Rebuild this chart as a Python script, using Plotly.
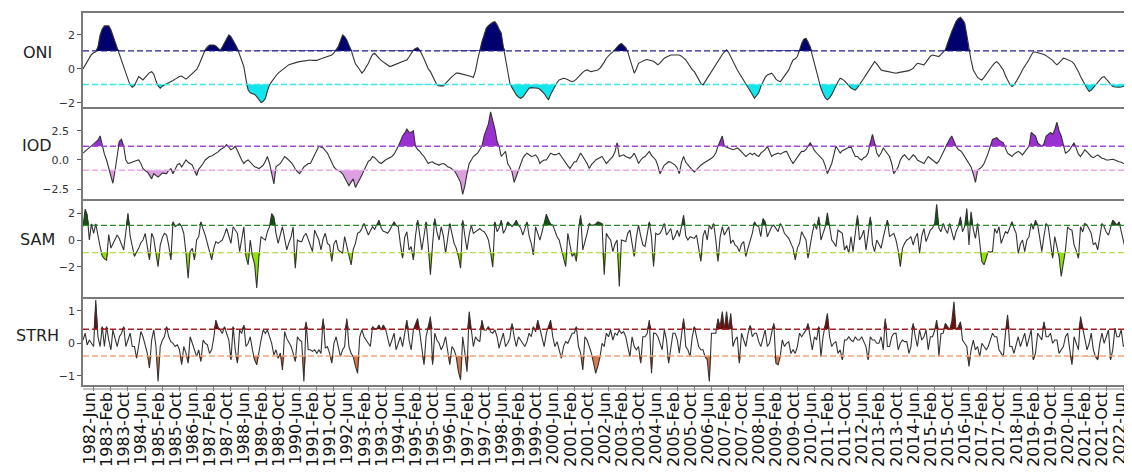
import pandas as pd
import numpy as np
import plotly.graph_objects as go
from plotly.subplots import make_subplots

start_month = "1982-01-01"

# ---- monthly series (1982-Jan .. 2022-Oct) ----
oni = [
    0.0, 0.2, 0.45, 0.65, 0.85, 0.95, 1.0, 1.3, 2.0, 2.35, 2.53, 2.53,
    2.53, 2.3, 1.95, 1.6, 1.25, 0.9, 0.5, 0.14, -0.3, -0.6, -0.95, -1.08,
    -0.98, -0.75, -0.45, -0.55, -0.65, -0.5, -0.35, -0.22, -0.16, -0.3, -0.7, -1.0,
    -1.14, -1.0, -0.94, -0.88, -0.84, -0.76, -0.68, -0.6, -0.5, -0.45, -0.42, -0.5,
    -0.6, -0.5, -0.4, -0.3, -0.15, -0.03, 0.2, 0.5, 0.85, 1.12, 1.3, 1.41,
    1.41, 1.41, 1.35, 1.2, 1.1, 1.3, 1.55, 1.8, 2.0, 1.9, 1.7, 1.45,
    1.2, 0.8, 0.5, 0.14, -0.6, -1.24, -1.4, -1.47, -1.5, -1.63, -1.8, -1.98,
    -1.9, -1.73, -1.3, -0.94, -0.75, -0.55, -0.4, -0.25, -0.16, -0.05, 0.05, 0.15,
    0.25, 0.3, 0.33, 0.36, 0.4, 0.43, 0.45, 0.48, 0.5, 0.53, 0.52, 0.5,
    0.49, 0.5, 0.55, 0.6, 0.63, 0.66, 0.7, 0.75, 0.82, 0.95, 1.1, 1.31,
    1.65, 2.0, 1.9, 1.7, 1.4, 1.12, 0.7, 0.3, 0.14, -0.05, -0.25, -0.1,
    0.1, 0.33, 0.6, 0.85, 0.92, 0.8, 0.63, 0.5, 0.4, 0.3, 0.2, 0.14,
    0.18, 0.24, 0.3, 0.33, 0.38, 0.43, 0.48, 0.53, 0.7, 0.9, 1.1, 1.2,
    1.25, 1.1, 0.9, 0.6, 0.3, 0.0, -0.16, -0.45, -0.7, -0.94, -1.0, -1.0,
    -1.0, -0.85, -0.7, -0.55, -0.45, -0.35, -0.25, -0.25, -0.28, -0.3, -0.33, -0.35,
    -0.4, -0.45, -0.5, -0.1, 0.53, 1.1, 1.6, 2.0, 2.4, 2.55, 2.68, 2.75,
    2.78, 2.6, 2.35, 2.1, 1.3, 0.53, -0.2, -0.84, -1.1, -1.35, -1.53, -1.65,
    -1.73, -1.65, -1.5, -1.3, -1.14, -1.1, -1.1, -1.12, -1.14, -1.2, -1.3, -1.45,
    -1.65, -1.82, -1.5, -1.24, -1.0, -0.8, -0.65, -0.6, -0.55, -0.58, -0.62, -0.7,
    -0.75, -0.7, -0.6, -0.45, -0.35, -0.2, -0.1, -0.06, -0.12, -0.16, -0.12, -0.08,
    -0.06, 0.05, 0.2, 0.4, 0.63, 0.8, 0.9, 1.0, 1.15, 1.3, 1.42, 1.5,
    1.4, 1.25, 1.0, 0.6, 0.2, -0.25, 0.0, 0.33, 0.4, 0.48, 0.53, 0.55,
    0.52, 0.49, 0.45, 0.35, 0.24, 0.35, 0.5, 0.63, 0.7, 0.76, 0.82, 0.82,
    0.82, 0.82, 0.82, 0.75, 0.65, 0.53, 0.35, 0.15, -0.05, -0.16, -0.4, -0.65,
    -0.85, -0.94, -0.75, -0.55, -0.35, -0.15, 0.05, 0.24, 0.45, 0.65, 0.85, 1.0,
    1.12, 0.95, 0.7, 0.43, 0.2, -0.05, -0.25, -0.45, -0.7, -0.9, -1.04, -1.3,
    -1.5, -1.73, -1.6, -1.4, -1.04, -0.75, -0.5, -0.35, -0.3, -0.25, -0.4, -0.6,
    -0.7, -0.75, -0.6, -0.4, -0.2, -0.06, 0.25, 0.53, 0.6, 0.73, 1.1, 1.5,
    1.75, 1.8, 1.6, 1.31, 0.8, 0.3, -0.06, -0.6, -1.14, -1.45, -1.7, -1.82,
    -1.7, -1.5, -1.24, -1.0, -0.75, -0.55, -0.6, -0.7, -0.84, -1.0, -1.12, -1.2,
    -1.24, -1.1, -0.9, -0.75, -0.55, -0.35, -0.16, 0.05, 0.25, 0.43, 0.3, 0.1,
    -0.06, -0.1, -0.12, -0.14, -0.16, -0.2, -0.23, -0.25, -0.22, -0.2, -0.18, -0.16,
    -0.16, -0.1, -0.04, 0.04, 0.2, 0.33, 0.3, 0.27, 0.24, 0.4, 0.6, 0.75,
    0.82, 0.8, 0.76, 0.73, 0.85, 1.0, 1.12, 1.5, 1.9, 2.2, 2.5, 2.8,
    2.95, 3.04, 2.9, 2.7, 2.0, 1.12, 0.5, -0.06, -0.3, -0.5, -0.6, -0.65,
    -0.5, -0.3, -0.16, 0.0, 0.2, 0.35, 0.43, 0.3, 0.1, -0.06, -0.4, -0.7,
    -0.9, -1.04, -0.95, -0.75, -0.55, -0.3, -0.05, 0.14, 0.35, 0.55, 0.8, 1.0,
    1.0, 0.97, 0.95, 0.92, 0.85, 0.78, 0.7, 0.63, 0.5, 0.35, 0.24, 0.35,
    0.5, 0.63, 0.6, 0.55, 0.5, 0.43, 0.3, 0.1, -0.16, -0.45, -0.7, -0.94,
    -1.15, -1.33, -1.25, -1.1, -0.94, -0.8, -0.65, -0.5, -0.45, -0.6, -0.8, -0.95,
    -1.04, -1.06, -1.08, -1.08, -1.06, -1.04, -1.0, -0.95, -0.85, -0.75,
]

iod = [
    0.59, 0.75, 0.9, 1.03, 1.2, 1.3, 1.47, 1.7, 2.06, 1.18, 0.5, 0.0,
    -0.7, -1.47, -2.0, -0.88, 0.5, 1.6, 1.77, 1.18, 0.0, -0.3, -0.25, -0.15,
    -0.1, -0.05, 0.0, -0.3, -0.74, -0.9, -1.03, -1.3, -1.62, -1.18, -1.3, -1.47,
    -1.3, -1.12, -1.15, -1.18, -0.9, -0.74, -1.18, -0.8, -0.4, -0.3, -0.59, -0.3,
    0.0, -0.2, -0.3, -0.44, -0.9, -1.33, -0.8, -0.59, -0.3, 0.0, 0.15, 0.3,
    0.35, 0.45, 0.59, 0.7, 0.88, 1.0, 1.1, 1.33, 1.1, 0.88, 1.0, 1.18,
    0.8, 0.3, 0.0, -0.3, -0.1, 0.0, -0.2, -0.4, -0.59, -0.65, -0.74, -0.6,
    -0.44, -0.1, 0.3, -0.3, -1.18, -2.06, -0.59, -0.4, -0.3, 0.0, 0.3, 0.15,
    0.0, -0.2, -0.44, -0.8, -1.0, -1.18, -0.9, -0.59, -0.45, -0.3, -0.3, 0.1,
    0.44, 0.8, 1.18, 1.1, 1.03, 0.8, 0.59, 0.2, -0.3, -0.6, -0.8, -0.88,
    -1.0, -1.18, -1.5, -1.77, -2.2, -1.9, -1.62, -2.36, -2.0, -1.77, -1.3, -0.88,
    -0.5, -0.1, 0.0, 0.3, 0.2, 0.0, -0.2, -0.3, -0.1, 0.0, 0.1, 0.2,
    0.3, 0.5, 0.8, 1.18, 1.6, 2.06, 2.3, 2.65, 2.4, 2.36, 2.5, 1.18,
    0.9, 0.74, 0.5, 0.3, 0.0, -0.3, -0.2, -0.15, -0.3, -0.35, -0.44, -0.35,
    -0.3, -0.4, -0.59, -0.65, -0.74, -0.9, -1.18, -1.5, -1.92, -2.95, -2.2, -1.2,
    -0.3, 0.0, 0.3, 0.45, 0.59, 0.9, 1.18, 2.06, 2.6, 3.1, 4.13, 3.4,
    2.65, 1.6, 1.18, 0.3, 0.5, 0.74, -0.3, -0.6, -1.03, -1.92, -1.4, -0.88,
    -0.2, 0.15, 0.4, 0.59, 0.45, 0.3, 0.35, 0.44, 0.2, -0.3, -0.1, 0.0,
    0.0, 0.3, 0.59, 0.5, 0.44, 0.5, 0.59, 0.3, 0.0, -0.3, -0.5, -0.74,
    -0.4, -0.15, -0.15, 0.2, 0.59, 0.3, 0.0, -0.3, -0.74, -0.4, -0.2, 0.0,
    0.1, 0.2, 0.3, 0.0, -0.3, -0.1, 0.1, 0.3, 0.7, 1.47, 0.3, 0.35,
    0.44, 0.3, 0.2, 0.15, 0.3, 0.59, 0.2, -0.3, 0.0, 0.2, 0.3, 0.5,
    0.74, 0.4, 0.2, 0.0, -0.5, -1.18, -0.8, -0.44, -0.3, -0.15, -0.2, -0.3,
    -0.44, -0.7, -1.18, -0.2, 0.3, -0.2, -0.44, -0.7, -0.85, -1.03, -0.8, -0.59,
    -0.45, -0.3, -0.2, -0.1, 0.0, 0.15, 0.3, 0.6, 1.18, 1.6, 2.06, 1.18,
    1.1, 1.03, 0.95, 0.88, 0.95, 1.03, 0.9, 0.74, 0.5, 0.3, 0.45, 0.59,
    0.45, 0.59, 0.4, 0.3, 0.59, 0.75, 0.88, 1.18, 0.7, 0.3, 0.45, 0.5,
    0.59, 0.5, 0.6, 0.7, 0.74, 0.3, 0.0, -0.3, 0.0, 0.3, 0.5, 0.74,
    0.74, 0.9, 1.2, 1.47, 1.18, 0.8, 0.6, 0.44, 0.2, 0.0, -0.5, -1.18,
    -0.7, -0.3, 0.4, 1.18, 0.9, 0.59, 0.8, 0.9, 1.03, 1.1, 1.18, 0.7,
    0.3, 0.3, 0.1, 0.0, 0.2, 0.3, 0.6, 1.5, 2.2, 1.47, 0.6, 0.3,
    0.6, 1.03, 0.8, 0.5, 0.3, -0.3, -1.18, -0.9, -0.59, 0.0, 0.3, 0.44,
    0.2, 0.0, 0.2, 0.44, 0.3, 0.0, -0.1, -0.2, -0.3, 0.0, 0.3, 0.15,
    0.0, -0.15, -0.3, -0.1, 0.3, 0.59, 1.0, 1.47, 1.8, 2.06, 1.6, 1.18,
    0.9, 0.8, 0.59, 0.3, 0.0, -0.3, -0.59, -1.2, -1.92, -0.88, -0.7, -0.59,
    -0.3, 0.1, 0.59, 1.2, 1.77, 1.85, 1.92, 1.7, 1.6, 1.47, 1.0, 0.59,
    0.45, 0.3, 0.5, 0.6, 0.74, 0.6, 0.44, 0.7, 0.9, 1.18, 2.36, 2.2,
    2.06, 1.47, 1.3, 1.18, 1.4, 2.06, 2.2, 2.36, 2.2, 2.6, 3.24, 2.5,
    2.06, 1.2, 0.59, 0.7, 0.88, 1.2, 1.47, 1.0, 0.5, 0.3, 0.6, 0.88,
    0.7, 0.5, 0.3, 0.2, 0.35, 0.44, 0.3, 0.15, 0.1, 0.0, 0.0, 0.05,
    0.06, 0.0, -0.1, -0.15, -0.2, -0.3, -0.3, -0.2, -0.1, 0.0,
]

sam = [
    1.0, 2.3, 1.9, 0.0, 1.2, 0.5, 1.2, 0.25, -0.5, -1.2, -1.4, -1.5,
    0.4, -0.6, -0.3, 0.0, 0.37, 0.1, -0.4, -0.74, 0.6, 2.0, 0.3, -0.6,
    -1.23, -0.9, -0.62, -0.2, 0.0, 0.5, -0.5, -1.48, 0.5, 0.12, -1.0, -1.98,
    -0.37, 0.2, 0.5, 0.37, -0.4, -1.48, 1.36, 0.99, 1.1, 1.23, 0.99, 0.5,
    -0.99, -2.84, -0.86, -0.62, -1.48, 0.0, 0.25, 1.36, 0.8, 0.37, -0.25, -0.8,
    -1.48, -0.6, -0.12, -0.25, -0.1, 0.0, 0.4, 0.86, 0.3, -0.25, 0.99, 0.7,
    0.5, -0.86, 0.2, 0.99, -1.23, -1.85, 0.0, -1.23, -1.8, -3.58, -1.23, 0.25,
    0.1, 0.0, 0.62, 1.0, 1.98, 1.73, 0.5, -0.25, 0.4, 0.99, 0.1, -0.74,
    -0.2, 0.25, 0.99, -2.1, 0.0, -0.1, -0.12, 0.3, 0.5, 0.0, -0.4, -0.86,
    0.74, 0.3, 0.0, -0.74, 0.1, 0.5, -0.25, -0.4, -1.6, -0.3, 0.0, -0.74,
    -0.9, -0.99, 0.25, -0.4, -0.99, -1.85, -0.7, -0.25, 0.5, 0.6, 0.86, 1.23,
    0.8, 0.37, 0.7, 0.99, 0.8, 1.1, 1.48, 0.9, 0.65, 0.6, 0.5, 0.74,
    1.0, 1.36, 1.1, 0.99, -0.3, -1.36, 0.2, 0.62, -0.74, -0.49, -1.48, 0.3,
    1.48, 0.4, -0.74, 0.3, 1.36, -0.5, -2.59, -0.3, 1.6, 0.6, 0.0, 0.99,
    0.3, -0.99, 0.2, 1.23, 0.5, -0.25, -0.6, -1.2, -2.1, 1.48, 0.3, -0.74,
    0.4, 1.11, 0.5, 0.6, 0.74, 0.86, 0.7, 0.62, 0.37, 0.0, -0.9, -2.02,
    1.36, 0.62, 0.9, 1.48, 0.5, 0.8, 1.36, 1.2, 0.99, 1.2, 1.48, 1.11,
    0.9, 0.37, 0.8, 1.36, 0.3, -0.25, -1.11, 0.99, 0.5, 0.0, 0.6, 1.23,
    1.93, 1.5, 1.2, 1.11, 0.6, 0.25, 0.0, -0.6, -1.2, -1.98, 0.5, -0.4,
    -1.23, -1.0, -1.6, 0.74, 1.85, -0.74, 0.0, 0.5, 1.23, 1.1, 1.11, 1.2,
    1.36, 1.3, 1.23, -2.59, 0.5, 0.2, 0.0, -0.86, -0.3, 0.0, -3.46, 0.0,
    -0.05, -0.12, 0.5, 0.74, -0.25, -1.23, 0.2, 1.11, 0.3, -0.37, -0.49, 0.5,
    1.36, 0.2, -1.98, 0.5, 0.4, 0.5, 0.8, 1.23, 0.37, 0.6, 0.86, 0.0,
    0.3, 0.74, 0.25, 1.0, 1.85, 0.3, 0.0, 0.25, 0.2, 0.12, 0.37, -0.5,
    -1.6, 0.3, 0.74, 0.0, 1.11, 0.8, 1.23, 0.0, -1.6, 0.2, 0.99, 0.37,
    0.7, 0.99, -0.25, 0.0, -0.37, -0.5, -0.86, -0.3, -0.12, -1.23, -0.6, -0.12,
    0.5, 1.36, 1.1, 0.99, 0.25, 1.6, 1.36, 0.25, 0.62, 0.99, 1.11, 0.86,
    0.62, 1.23, 0.99, 0.5, 0.3, 0.12, -0.25, -0.6, -1.48, -0.6, -0.25, 0.62,
    0.3, 0.0, -1.36, -0.3, 0.5, 1.23, 0.8, 1.73, 0.0, 0.5, 0.99, 2.02,
    0.9, 0.0, -0.2, -0.49, 0.74, 0.6, 0.5, -0.74, -0.4, -0.99, 0.25, -0.86,
    0.5, 1.85, 0.0, 0.3, 0.74, -0.74, 0.4, 1.73, -0.3, -0.86, 0.0, -0.3,
    -0.62, 0.2, 0.86, 1.48, 0.25, 0.4, 0.5, 0.0, -0.8, -1.98, -0.6, -0.25,
    0.0, 0.1, 0.25, -0.37, 0.2, 0.5, -0.99, 0.3, 0.86, -0.12, 0.3, 0.74,
    0.9, 1.23, 2.67, 0.9, 0.62, 1.23, 0.8, 0.5, 1.23, 0.6, 0.0, 0.62,
    1.0, 1.73, 0.62, 1.0, 2.35, -0.37, 2.1, 0.8, 0.12, 1.23, -0.3, -1.6,
    -1.85, -1.3, -0.86, -0.9, -0.86, 0.86, 0.5, 0.99, -0.25, 0.2, 0.62, 0.5,
    0.9, 1.36, 0.9, 0.5, -0.99, -0.3, 0.0, -0.86, 0.0, 0.25, 1.23, 0.8,
    1.48, 1.11, 0.2, -0.86, 0.3, 1.23, 0.99, -0.2, -1.36, 0.25, -0.5, -1.23,
    -2.72, -1.5, -0.74, 0.99, 0.8, 0.74, -0.37, -0.8, -1.36, 0.99, 0.6, 1.23,
    1.11, 0.8, 0.5, -0.37, -0.2, -0.74, 0.2, 1.23, 0.99, 0.6, 0.37, 0.9,
    1.48, 1.3, 1.11, 1.36, 0.6, 0.0, -0.7, -1.48, 0.0, 0.74,
]

strh = [
    0.1, 0.31, -0.05, 0.1, 0.0, -0.1, 1.33, 0.2, -0.1, 0.51, -0.1, 0.51,
    0.1, -0.2, 0.41, 0.1, -0.1, 0.2, 0.3, 0.51, -0.1, 0.1, 0.31, -0.1,
    -0.1, -0.46, -0.1, 0.36, 0.2, -0.1, -0.3, -0.76, 0.1, 0.41, -0.1, -1.17,
    -0.1, 0.1, 0.2, 0.51, 0.2, 0.05, 0.0, -0.1, -0.05, -0.2, -0.66, -0.1,
    -0.3, -0.61, 0.2, 0.0, -0.2, -0.41, -0.2, -0.56, 0.1, 0.0, -0.05, -0.31,
    -0.2, 0.2, 0.71, 0.5, 0.41, 0.3, 0.51, 0.31, 0.1, -0.51, 0.51, -0.2,
    -0.61, 0.41, 0.3, 0.56, -0.1, 0.0, 0.2, -0.2, -0.51, -0.66, -0.2, 0.1,
    0.41, 0.3, 0.41, 0.2, 0.0, -0.36, -0.2, -0.46, -0.3, -0.82, 0.36, 0.15,
    0.0, -0.1, -0.3, -0.56, 0.2, 0.1, 0.05, -1.17, 0.66, -0.2, -0.2, -0.25,
    -0.2, -0.31, -0.2, -0.31, 0.76, -0.15, -0.1, -0.31, -0.61, 0.0, 0.2, -0.1,
    -0.41, -0.2, -0.1, 0.76, -0.1, -0.31, -0.41, -0.7, -0.92, 0.2, 0.41, 0.2,
    0.1, 0.0, -0.1, 0.51, 0.45, 0.45, 0.56, 0.41, 0.56, 0.45, 0.2, -0.1,
    0.1, 0.31, -0.2, 0.0, 0.2, -0.1, 0.3, 0.71, 0.1, -0.2, 0.41, 0.6,
    0.76, 0.31, -0.2, -0.66, 0.2, 0.5, 0.82, -0.66, 0.31, 0.1, 0.0, -0.2,
    -0.05, 0.2, -0.3, -0.66, -0.1, -0.2, -0.41, -0.87, -1.12, 0.2, -0.3, -0.87,
    0.97, 0.3, -0.1, 0.2, 0.1, 0.05, 0.71, 0.4, 0.41, 0.51, 0.35, 0.31,
    0.41, 0.2, -0.15, 0.1, 0.31, -0.1, 0.0, 0.15, 0.61, 0.2, -0.1, 0.2,
    0.1, 0.0, -0.1, 0.05, 0.31, 0.2, 0.51, 0.35, 0.71, 0.45, 0.2, -0.1,
    0.31, 0.5, 0.71, 0.2, -0.1, 0.05, -0.2, -0.46, -0.1, 0.05, 0.0, 0.15,
    0.31, 0.31, 0.51, -0.1, -0.3, -0.82, 0.2, 0.1, -0.1, -0.3, -0.61, -0.92,
    -0.7, -0.41, 0.0, -0.1, 0.31, 0.2, 0.41, 0.1, 0.31, 0.25, 0.41, 0.3,
    0.36, 0.2, -0.1, -0.41, 0.2, -0.1, -0.2, -0.1, -0.61, 0.2, 0.2, 0.3,
    0.71, -0.92, 0.31, 0.3, 0.2, 0.0, -0.2, 0.41, 0.1, -0.61, -0.1, 0.31,
    0.31, 0.1, -0.3, 0.2, 0.76, -0.1, -0.2, -0.41, 0.2, 0.51, 0.2, -0.1,
    -0.2, -0.2, -0.41, -0.5, -1.17, 0.31, 0.31, 0.31, 0.76, 0.5, 0.97, 0.41,
    0.97, 0.41, 0.92, -0.1, 0.1, 0.2, -0.61, 0.31, 0.1, -0.1, 0.3, 0.55,
    0.2, 0.31, 0.31, 0.05, -0.1, 0.2, 0.41, -0.1, 0.0, 0.31, 0.61, -0.61,
    -0.66, -0.4, 0.1, -0.1, 0.0, 0.05, -0.31, -0.2, -0.31, -0.1, 0.31, 0.2,
    0.3, 0.41, 0.61, 0.2, -0.2, 0.2, 0.1, 0.51, -0.41, 0.2, 0.56, 0.92,
    0.2, -0.1, 0.0, 0.05, -0.31, -0.2, -0.51, 0.1, 0.1, 0.2, 0.1, 0.05,
    0.2, 0.1, 0.1, 0.2, 0.05, -0.1, -0.51, 0.2, 0.1, 0.1, 0.0, 0.0,
    0.2, -0.2, 0.76, -0.1, -0.1, 0.2, 0.3, 0.31, -0.2, 0.0, 0.1, 0.05,
    0.05, -0.31, -0.1, 0.61, 0.2, -0.1, 0.41, 0.1, 0.2, 0.41, -0.2, 0.2,
    0.2, 0.4, 0.71, -0.41, 0.3, 0.31, 0.61, 0.5, 0.41, 0.66, 1.27, 0.41,
    0.5, 0.66, 0.1, 0.0, -0.1, -0.71, -0.2, 0.1, -0.2, -0.1, -0.41, 0.0,
    -0.1, -0.2, -0.1, 0.1, 0.31, 0.2, 0.2, -0.2, -0.3, -0.41, 0.31, 0.87,
    -0.1, -0.1, -0.31, 0.0, 0.2, -0.1, 0.1, 0.31, -0.1, 0.2, 0.41, -0.51,
    -0.3, 0.31, 0.2, 0.1, 0.66, 0.2, 0.2, 0.31, 0.0, 0.1, 0.1, -0.31,
    -0.2, -0.1, 0.2, 0.31, -0.2, -0.66, 0.2, 0.0, -0.2, 0.82, 0.5, 0.2,
    -0.2, 0.0, 0.31, -0.2, -0.41, -0.51, 0.0, 0.31, 0.0, 0.2, 0.41, -0.51,
    -0.2, 0.46, 0.2, 0.2, 0.41, -0.1, 0.0, 0.1, 0.05, 0.05,
]

panel_names = ["ONI", "IOD", "SAM", "STRH"]
upper_thresholds = [1.06, 1.18, 1.09, 0.43]
lower_thresholds = [-0.92, -0.88, -0.94, -0.39]
y_ranges = [[-2.24, 3.29], [-3.35, 4.55], [-4.25, 3.06], [-1.28, 1.42]]
y_ticks = [[-2, 0, 2], [-2.5, 0.0, 2.5], [-2, 0, 2], [-1, 0, 1]]
y_tickformats = ["d", ".1f", "d", "d"]

upper_fill = ["#00006e", "#9a30d2", "#0a560a", "#7a0606"]
upper_dash = ["#23238f", "#a24ad8", "#2f8a2f", "#a52222"]
lower_fill = ["#10e6ee", "#dca0e0", "#8ee20a", "#d97a52"]
lower_dash = ["#3ee6e6", "#eaa8ea", "#b4dc52", "#f6a47e"]

series = [oni, iod, sam, strh]
dates = pd.date_range(start_month, periods=len(oni), freq="MS")

# Page geometry of the reference (the page body adds an 8px offset to the figure)
page_w, page_h = 1132, 473
body_off = 8
fig_w, fig_h = page_w - body_off, page_h - body_off
left_px = 83            # left edge of the plot area on the page
top_px, bottom_px = 13, 385
edges_px = [13, 107, 199, 297, 385]
plot_h = bottom_px - top_px
plot_w = page_w - left_px
frame_col = "#7a7a7a"

fig = make_subplots(rows=4, cols=1, shared_xaxes=True, vertical_spacing=0.0)

for i, (vals, name) in enumerate(zip(series, panel_names)):
    r = i + 1
    y = np.array(vals, dtype=float)
    up, lo = upper_thresholds[i], lower_thresholds[i]
    fig.add_trace(go.Scatter(x=dates, y=np.full(len(y), up), mode="lines",
                             line=dict(width=0), hoverinfo="skip", showlegend=False), row=r, col=1)
    fig.add_trace(go.Scatter(x=dates, y=np.maximum(y, up), mode="lines",
                             line=dict(width=0), fill="tonexty", fillcolor=upper_fill[i],
                             hoverinfo="skip", showlegend=False), row=r, col=1)
    fig.add_trace(go.Scatter(x=dates, y=np.full(len(y), lo), mode="lines",
                             line=dict(width=0), hoverinfo="skip", showlegend=False), row=r, col=1)
    fig.add_trace(go.Scatter(x=dates, y=np.minimum(y, lo), mode="lines",
                             line=dict(width=0), fill="tonexty", fillcolor=lower_fill[i],
                             hoverinfo="skip", showlegend=False), row=r, col=1)
    fig.add_trace(go.Scatter(x=dates, y=y, mode="lines", name=name,
                             line=dict(color="#333333", width=1.1), showlegend=False), row=r, col=1)
    fig.add_hline(y=up, row=r, col=1, line=dict(color=upper_dash[i], width=1.4, dash="6px,3px"))
    fig.add_hline(y=lo, row=r, col=1, line=dict(color=lower_dash[i], width=1.4, dash="6px,3px"))

    d0 = (bottom_px - edges_px[i + 1]) / plot_h
    d1 = (bottom_px - edges_px[i]) / plot_h
    fig.update_yaxes(domain=[d0, d1], range=y_ranges[i], tickvals=y_ticks[i],
                     tickformat=y_tickformats[i],
                     ticklabelstandoff=(6 if name == "IOD" else 0), row=r, col=1)
    centre_px = [52, 145, 239, 335][i]
    fig.add_annotation(text=name, xref="paper", yref="paper",
                       x=(37 - left_px) / plot_w, y=(bottom_px - centre_px) / plot_h,
                       showarrow=False, xanchor="center", yanchor="middle",
                       font=dict(family="DejaVu Sans", size=16, color="#222222"))

fig.update_yaxes(showline=True, linecolor=frame_col, linewidth=1.5, mirror=True,
                 ticks="outside", ticklen=4, tickcolor="#555555", showgrid=False,
                 zeroline=False, automargin=False,
                 tickfont=dict(family="DejaVu Sans", size=11, color="#333333"))
fig.update_xaxes(showline=True, linecolor=frame_col, linewidth=1.5, mirror=False,
                 showgrid=False, zeroline=False, type="date", automargin=False,
                 range=[dates[0], dates[-1]])
fig.update_xaxes(mirror=True, row=1, col=1)
for r in (1, 2, 3):
    fig.update_xaxes(ticks="", showticklabels=False, row=r, col=1)
fig.update_xaxes(ticks="outside", ticklen=4, tickcolor=frame_col, tickwidth=1,
                 tick0="1982-06-01", dtick="M8", tickformat="%Y-%b", tickangle=-90,
                 showticklabels=True, ticklabelstandoff=-5, ticklabelshift=-4,
                 tickfont=dict(family="DejaVu Sans", size=16, color="#111111"),
                 row=4, col=1)

fig.add_shape(type="line", xref="paper", yref="paper", x0=0, x1=1,
              y0=-4 / plot_h, y1=-4 / plot_h, line=dict(color="#8a8a8a", width=1))

fig.update_layout(width=fig_w, height=fig_h, plot_bgcolor="white", paper_bgcolor="white",
                  margin=dict(l=left_px - body_off, r=0, t=top_px - body_off,
                              b=page_h - bottom_px),
                  font=dict(family="DejaVu Sans"), showlegend=False)

fig.write_html("out.html")
